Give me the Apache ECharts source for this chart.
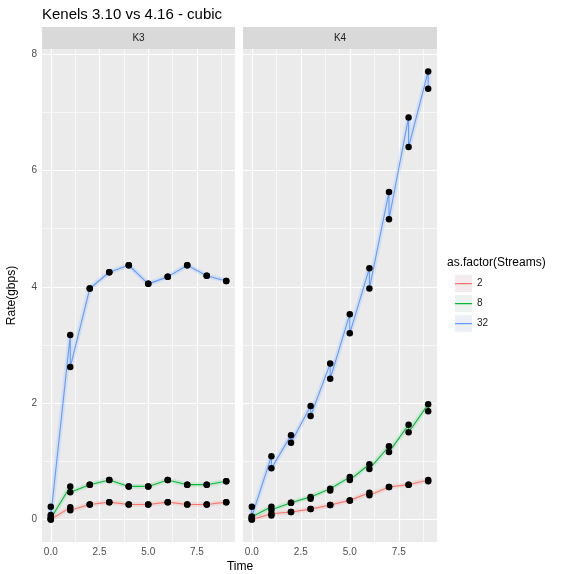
<!DOCTYPE html>
<html lang="en">
<head>
    <meta charset="utf-8">
    <title>Kenels 3.10 vs 4.16 - cubic</title>
    <script src="https://cdn.jsdelivr.net/npm/echarts@6/dist/echarts.min.js"></script>
    <style>
        html, body {margin: 0; padding: 0; background: #fff;}
        #main {width: 570px; height: 574px;}
    </style>
</head>
<body>
<div id="main"></div>
<script>
    // two runs per time step, higher one first
    var times = [0, 0, 1, 1, 2, 2, 3, 3, 4, 4, 5, 5, 6, 6, 7, 7, 8, 8, 9, 9];
    var panels = ['K3', 'K4'];
    var streams = ['2', '8', '32'];
    var colors = ['#F8766D', '#00BA38', '#619CFF'];
    var bands = ['rgba(248,118,109,0.14)', 'rgba(0,186,56,0.12)', 'rgba(97,156,255,0.16)'];

    var k3_2 = [0.00, 0.00, 0.21, 0.16, 0.26, 0.26, 0.30, 0.30, 0.26, 0.26, 0.26, 0.26, 0.30, 0.30, 0.26, 0.26, 0.26, 0.26, 0.30, 0.30];
    var k3_8 = [0.08, 0.02, 0.57, 0.47, 0.60, 0.60, 0.68, 0.68, 0.57, 0.57, 0.57, 0.57, 0.68, 0.68, 0.60, 0.60, 0.60, 0.60, 0.66, 0.66];
    var k3_32 = [0.22, 0.05, 3.17, 2.62, 3.97, 3.97, 4.25, 4.25, 4.37, 4.37, 4.05, 4.05, 4.17, 4.17, 4.37, 4.37, 4.19, 4.19, 4.10, 4.10];
    var k4_2 = [0.00, 0.00, 0.10, 0.07, 0.13, 0.13, 0.18, 0.18, 0.25, 0.25, 0.33, 0.33, 0.46, 0.42, 0.56, 0.56, 0.60, 0.60, 0.68, 0.66];
    var k4_8 = [0.05, 0.02, 0.22, 0.17, 0.29, 0.29, 0.39, 0.36, 0.53, 0.50, 0.73, 0.68, 0.95, 0.87, 1.26, 1.16, 1.63, 1.50, 1.98, 1.86];
    var k4_32 = [0.22, 0.05, 1.09, 0.88, 1.45, 1.32, 1.95, 1.78, 2.68, 2.42, 3.53, 3.20, 4.32, 3.97, 5.63, 5.16, 6.91, 6.40, 7.70, 7.40];

    var yTicks = [0, 2, 4, 6, 8];
    var yMinor = [1, 3, 5, 7];
    var xTicks = [0, 2.5, 5, 7.5];
    var xMinor = [1.25, 3.75, 6.25, 8.75];

    var values = [[k3_2, k3_8, k3_32], [k4_2, k4_8, k4_32]];

    var myChart = echarts.init(document.getElementById('main'));

    function pairs(arr) {
        return arr.map(function (v, i) { return [times[i], v]; });
    }

    function gridLines() {
        var d = [];
        yMinor.forEach(function (v) { d.push({yAxis: v, lineStyle: {width: 0.6}}); });
        xMinor.forEach(function (v) { d.push({xAxis: v, lineStyle: {width: 0.6}}); });
        yTicks.forEach(function (v) { d.push({yAxis: v, lineStyle: {width: 1.2}}); });
        xTicks.forEach(function (v) { d.push({xAxis: v, lineStyle: {width: 1.2}}); });
        return {
            silent: true, symbol: ['none', 'none'], z: 1, animation: false,
            label: {show: false},
            lineStyle: {color: '#ffffff', type: 'solid', opacity: 1},
            data: d
        };
    }

    var grids = [
        {left: 42, top: 49, width: 193, height: 493},
        {left: 243, top: 49, width: 194, height: 493}
    ];
    var xAxes = [], yAxes = [], series = [];
    var font = 'Liberation Sans';

    panels.forEach(function (p, gi) {
        grids[gi].show = true;
        grids[gi].backgroundColor = '#EBEBEB';
        grids[gi].borderWidth = 0;
        xAxes.push({
            type: 'value', gridIndex: gi, min: -0.45, max: 9.45,
            axisLine: {show: false}, splitLine: {show: false},
            axisTick: {show: true, length: 3, customValues: xTicks, lineStyle: {color: '#333333'}},
            axisLabel: {customValues: xTicks, margin: 5, color: '#4D4D4D', fontSize: 10, fontFamily: font,
                formatter: function (v) { return v.toFixed(1); }}
        });
        yAxes.push({
            type: 'value', gridIndex: gi, min: -0.385, max: 8.085,
            axisLine: {show: false}, splitLine: {show: false},
            axisTick: {show: gi === 0, length: 3, customValues: yTicks, lineStyle: {color: '#333333'}},
            axisLabel: {show: gi === 0, customValues: yTicks, margin: 5, color: '#4D4D4D', fontSize: 10, fontFamily: font},
            name: gi === 0 ? 'Rate(gbps)' : '', nameLocation: 'middle', nameGap: 24, nameRotate: 90,
            nameTextStyle: {color: '#000', fontSize: 12, fontFamily: font}
        });
        // panel grid lines
        series.push({
            type: 'line', xAxisIndex: gi, yAxisIndex: gi, data: [[0, 0]], symbol: 'none',
            lineStyle: {opacity: 0}, silent: true, z: 1, markLine: gridLines()
        });
        streams.forEach(function (s, si) {
            var d = pairs(values[gi][si]);
            // light band under each line
            series.push({
                type: 'line', xAxisIndex: gi, yAxisIndex: gi, data: d, symbol: 'none', silent: true,
                lineStyle: {color: bands[si], width: 5}, z: 2
            });
            series.push({
                name: s, type: 'line', xAxisIndex: gi, yAxisIndex: gi, data: d, symbol: 'none',
                itemStyle: {color: colors[si]}, lineStyle: {color: colors[si], width: 1.1}, z: 3
            });
            series.push({
                type: 'scatter', xAxisIndex: gi, yAxisIndex: gi, data: d, symbol: 'circle', symbolSize: 6.5,
                itemStyle: {color: '#000000', opacity: 1}, z: 4
            });
        });
    });

    // 17x17 key with a thin line across the middle
    var keyIcon = 'path://M0,0 L0.01,0 L0.01,0.01 Z M0,8 L17,8 L17,9.2 L0,9.2 Z M17,17 L16.99,17 L16.99,16.99 Z';

    var graphic = [];
    panels.forEach(function (p, gi) {
        graphic.push({
            type: 'rect', shape: {x: grids[gi].left, y: 27, width: grids[gi].width, height: 22},
            style: {fill: '#D9D9D9'}, silent: true
        });
        graphic.push({
            type: 'text', x: grids[gi].left + grids[gi].width / 2, y: 38,
            style: {text: p, fill: '#1A1A1A', font: '10px "Liberation Sans"', textAlign: 'center', textVerticalAlign: 'middle'}
        });
    });
    ['#F4ECEC', '#ECF3EE', '#ECEFF6'].forEach(function (c, i) {
        graphic.push({
            type: 'rect', shape: {x: 455, y: 275 + i * 20, width: 17, height: 17},
            style: {fill: c}, silent: true, z: -1
        });
    });
    graphic.push({
        type: 'text', x: 240, y: 567,
        style: {text: 'Time', fill: '#000', font: '12px "Liberation Sans"', textAlign: 'center', textVerticalAlign: 'middle'}
    });

    var option = {
        animation: false,
        title: [
            {text: 'Kenels 3.10 vs 4.16 - cubic', left: 37, top: 2,
                textStyle: {fontSize: 15, fontWeight: 'normal', color: '#000', fontFamily: font}},
            {text: 'as.factor(Streams)', left: 442, top: 252,
                textStyle: {fontSize: 12, fontWeight: 'normal', color: '#000', fontFamily: font}}
        ],
        legend: {
            data: streams.map(function (s, si) {
                return {
                    name: s, icon: keyIcon,
                    itemStyle: {color: colors[si], borderWidth: 0, opacity: 1},
                    lineStyle: {width: 0, opacity: 0}
                };
            }),
            orient: 'vertical', left: 455, top: 275, padding: 0,
            itemWidth: 17, itemHeight: 17, itemGap: 3,
            textStyle: {fontSize: 10, color: '#1A1A1A', fontFamily: font}
        },
        grid: grids,
        xAxis: xAxes,
        yAxis: yAxes,
        graphic: graphic,
        series: series
    };

    myChart.setOption(option);
</script>
</body>
</html>
